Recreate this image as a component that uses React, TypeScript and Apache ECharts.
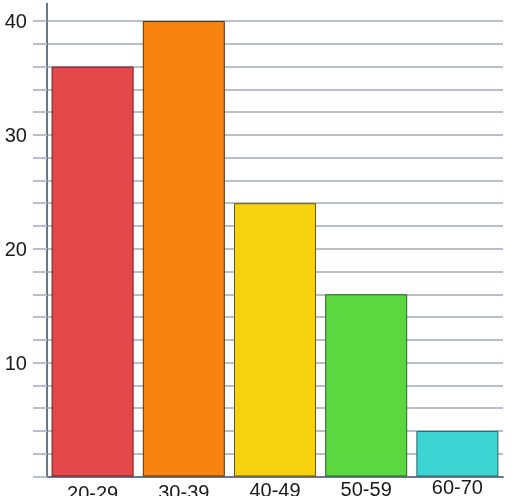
import React, { useEffect, useRef } from "react";
import * as echarts from "echarts";

const categories = ["20-29", "30-39", "40-49", "50-59", "60-70"];
const counts = [36, 40, 24, 16, 4];
const barColors = ["#e5484a", "#f8830f", "#f7d20f", "#5bd73f", "#3dd5d3"];
const borderColors = ["#6e1c1c", "#5a3008", "#6a5508", "#2d6420", "#2a6464"];
const labelOffsets = [6.4, 5, 3.8, 2.2, 0];

export default function App() {
  const ref = useRef<HTMLDivElement>(null);
  useEffect(() => {
    if (!ref.current) return;
    const chart = echarts.init(ref.current, undefined, { renderer: "svg" });
    const font = "'Liberation Sans', Arial, sans-serif";
    const axisColor = "#6b7689";
    const gridColor = "#b6bfcb";
    const rich: Record<string, any> = {};
    labelOffsets.forEach((p, i) => {
      rich["l" + i] = {
        fontSize: 20,
        fontFamily: font,
        color: "#1a1a1a",
        padding: [p, 0, 0, 0],
      };
    });
    chart.setOption({
      animation: false,
      grid: {
        left: 47,
        right: 14,
        top: 21,
        bottom: 19.5,
        containLabel: false,
        outerBoundsMode: "none",
      },
      xAxis: {
        type: "category",
        data: categories,
        axisLine: { show: true, lineStyle: { color: axisColor, width: 2 } },
        axisTick: { show: false },
        splitLine: { show: false },
        axisLabel: {
          margin: 0,
          interval: 0,
          fontSize: 20,
          fontFamily: font,
          color: "#1a1a1a",
          formatter: (v: string, i: number) => `{l${i}|${v}}`,
          rich,
        },
      },
      yAxis: {
        type: "value",
        min: 0,
        max: 40,
        interval: 2,
        axisLine: { show: true, lineStyle: { color: axisColor, width: 2 } },
        axisTick: {
          show: true,
          length: 14,
          lineStyle: { color: gridColor, width: 2 },
        },
        splitLine: { show: true, lineStyle: { color: gridColor, width: 2 } },
        axisLabel: {
          margin: 20,
          fontSize: 20,
          fontFamily: font,
          color: "#1a1a1a",
          formatter: (v: number) => (v > 0 && v % 10 === 0 ? String(v) : ""),
        },
      },
      graphic: [
        {
          type: "line",
          shape: { x1: 47, y1: 3, x2: 47, y2: 21 },
          style: { stroke: axisColor, lineWidth: 2 },
          z: 10,
        },
      ],
      series: [
        {
          type: "bar",
          barWidth: 82,
          data: counts.map((v, i) => ({
            value: v,
            itemStyle: {
              color: barColors[i],
              borderColor: borderColors[i],
              borderWidth: 1,
            },
          })),
        },
      ],
    });
    return () => chart.dispose();
  }, []);
  return (
    <div
      ref={ref}
      style={{ position: "fixed", left: 0, top: 0, width: 517, height: 496 }}
    />
  );
}
